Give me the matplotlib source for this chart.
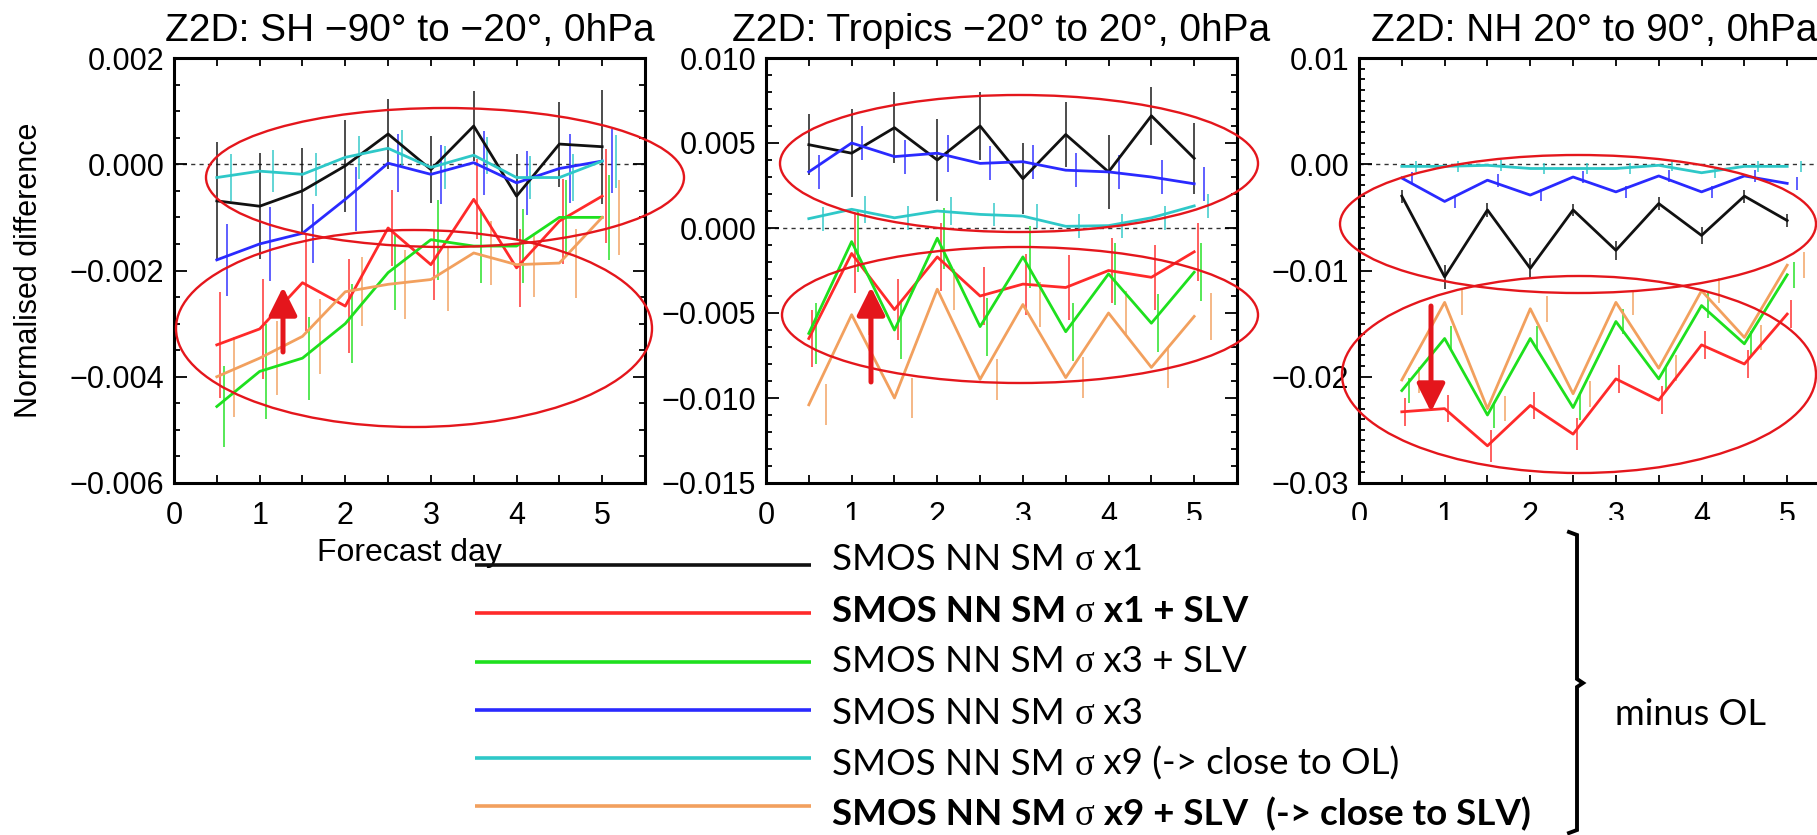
import matplotlib
matplotlib.use("Agg")
import matplotlib.pyplot as plt
from matplotlib.patches import Ellipse, Rectangle, FancyArrowPatch
from matplotlib.lines import Line2D
from matplotlib.ticker import MultipleLocator, FuncFormatter
from matplotlib.offsetbox import TextArea, HPacker, AnnotationBbox

plt.rcParams['font.family'] = ['Liberation Sans', 'DejaVu Sans']

# ---------------- data ----------------
days = [0.5, 1.0, 1.5, 2.0, 2.5, 3.0, 3.5, 4.0, 4.5, 5.0]

experiments = ["SMOS NN SM σ x1", "SMOS NN SM σ x1 + SLV", "SMOS NN SM σ x3 + SLV",
               "SMOS NN SM σ x3", "SMOS NN SM σ x9 (-> close to OL)",
               "SMOS NN SM σ x9 + SLV  (-> close to SLV)"]

titles = ["Z2D: SH \u221290\u00b0 to \u221220\u00b0, 0hPa",
          "Z2D: Tropics \u221220\u00b0 to 20\u00b0, 0hPa",
          "Z2D: NH 20\u00b0 to 90\u00b0, 0hPa"]

# Southern hemisphere
sh_x1 = [-0.00069, -0.00079, -0.0005, -0.00003, 0.00057, -0.0001, 0.00072, -0.0006, 0.00038, 0.00033]
sh_x1_slv = [-0.0034, -0.0031, -0.00223, -0.00267, -0.0012, -0.00189, -0.00066, -0.00195, -0.00107, -0.0006]
sh_x3_slv = [-0.00456, -0.0039, -0.00365, -0.003, -0.00204, -0.00142, -0.00154, -0.00154, -0.001, -0.001]
sh_x3 = [-0.0018, -0.0015, -0.0013, -0.00066, 0.00002, -0.00019, 0.00003, -0.00035, -0.00008, 0.00006]
sh_x9 = [-0.00025, -0.00013, -0.00019, 0.00013, 0.0003, -0.00006, 0.00017, -0.00025, -0.00025, 0.00006]
sh_x9_slv = [-0.004, -0.00365, -0.00324, -0.0024, -0.00226, -0.00217, -0.00167, -0.00189, -0.00186, -0.001]

sh_x1_err = [0.0011, 0.001, 0.0008, 0.00087, 0.00066, 0.00063, 0.00066, 0.0008, 0.0008, 0.00107]
sh_x1_slv_err = [0.001, 0.00094, 0.0009, 0.00088, 0.00072, 0.00066, 0.00075, 0.00074, 0.0008, 0.00088]
sh_x3_slv_err = [0.00077, 0.0009, 0.00078, 0.00075, 0.0007, 0.00075, 0.0007, 0.0007, 0.0007, 0.0008]
sh_x3_err = [0.00068, 0.0007, 0.00055, 0.0006, 0.00055, 0.00055, 0.0006, 0.0006, 0.00065, 0.0006]
sh_x9_err = [0.00045, 0.0004, 0.0004, 0.0004, 0.00035, 0.0004, 0.00035, 0.0004, 0.00045, 0.0005]
sh_x9_slv_err = [0.00075, 0.0007, 0.0007, 0.00065, 0.00065, 0.0006, 0.0006, 0.0006, 0.00065, 0.0007]

# Tropics
tr_x1 = [0.0049, 0.0044, 0.0059, 0.004, 0.006, 0.0029, 0.0055, 0.0033, 0.0066, 0.0041]
tr_x1_slv = [-0.0065, -0.0015, -0.0048, -0.0017, -0.004, -0.0033, -0.0035, -0.0025, -0.0029, -0.0014]
tr_x3_slv = [-0.0062, -0.0008, -0.006, -0.0006, -0.0058, -0.0017, -0.0061, -0.0027, -0.0056, -0.0026]
tr_x3 = [0.0033, 0.005, 0.0042, 0.0044, 0.0038, 0.0039, 0.0034, 0.0033, 0.003, 0.0026]
tr_x9 = [0.00055, 0.0011, 0.0006, 0.001, 0.0008, 0.0007, 0.0001, 0.00014, 0.0006, 0.0013]
tr_x9_slv = [-0.0104, -0.0051, -0.01, -0.0036, -0.0089, -0.0045, -0.0088, -0.005, -0.0082, -0.0052]

tr_x1_err = [0.0018, 0.0026, 0.0021, 0.0024, 0.002, 0.0021, 0.0019, 0.0022, 0.0017, 0.0021]
tr_x1_slv_err = [0.0017, 0.0023, 0.0018, 0.002, 0.0017, 0.0018, 0.0019, 0.0019, 0.0019, 0.0017]
tr_x3_slv_err = [0.0018, 0.0018, 0.0017, 0.0018, 0.0017, 0.0018, 0.0017, 0.0018, 0.0017, 0.0017]
tr_x3_err = [0.001, 0.001, 0.001, 0.0011, 0.001, 0.001, 0.001, 0.001, 0.001, 0.001]
tr_x9_err = [0.0007, 0.0008, 0.0007, 0.0008, 0.0007, 0.0007, 0.0007, 0.0007, 0.0007, 0.0007]
tr_x9_slv_err = [0.0012, 0.0012, 0.0012, 0.0012, 0.0012, 0.0013, 0.0012, 0.0013, 0.0012, 0.0014]

# Northern hemisphere
nh_x1 = [-0.003, -0.0106, -0.0043, -0.0098, -0.0043, -0.0081, -0.0037, -0.0067, -0.003, -0.0053]
nh_x1_slv = [-0.0233, -0.023, -0.0265, -0.0227, -0.0254, -0.0202, -0.0222, -0.017, -0.0188, -0.0141]
nh_x3_slv = [-0.0213, -0.0164, -0.0236, -0.0164, -0.0229, -0.0148, -0.0202, -0.0133, -0.0169, -0.0104]
nh_x3 = [-0.0013, -0.0035, -0.0015, -0.0029, -0.0012, -0.0026, -0.0011, -0.0026, -0.0011, -0.0018]
nh_x9 = [-0.0002, -0.0002, -0.0001, -0.0004, -0.0004, -0.0004, -0.0001, -0.0008, -0.0002, -0.0002]
nh_x9_slv = [-0.0203, -0.013, -0.023, -0.0136, -0.0216, -0.013, -0.0192, -0.0119, -0.0163, -0.0095]

nh_x1_err = [0.0006, 0.0011, 0.0007, 0.001, 0.0006, 0.0009, 0.0006, 0.0008, 0.0006, 0.0006]
nh_x1_slv_err = [0.0013, 0.0013, 0.0015, 0.0013, 0.0015, 0.0013, 0.0013, 0.0013, 0.0013, 0.0013]
nh_x3_slv_err = [0.0012, 0.0012, 0.0012, 0.0012, 0.0012, 0.0012, 0.0012, 0.0012, 0.0012, 0.0012]
nh_x3_err = [0.0006, 0.0006, 0.0006, 0.0006, 0.0006, 0.0006, 0.0006, 0.0006, 0.0006, 0.0006]
nh_x9_err = [0.0005, 0.0005, 0.0005, 0.0005, 0.0005, 0.0005, 0.0005, 0.0005, 0.0005, 0.0005]
nh_x9_slv_err = [0.0012, 0.0012, 0.0012, 0.0012, 0.0012, 0.0012, 0.0012, 0.0012, 0.0012, 0.0012]

panels = [
    ([sh_x1, sh_x1_slv, sh_x3_slv, sh_x3, sh_x9, sh_x9_slv],
     [sh_x1_err, sh_x1_slv_err, sh_x3_slv_err, sh_x3_err, sh_x9_err, sh_x9_slv_err]),
    ([tr_x1, tr_x1_slv, tr_x3_slv, tr_x3, tr_x9, tr_x9_slv],
     [tr_x1_err, tr_x1_slv_err, tr_x3_slv_err, tr_x3_err, tr_x9_err, tr_x9_slv_err]),
    ([nh_x1, nh_x1_slv, nh_x3_slv, nh_x3, nh_x9, nh_x9_slv],
     [nh_x1_err, nh_x1_slv_err, nh_x3_slv_err, nh_x3_err, nh_x9_err, nh_x9_slv_err]),
]

# ---------------- style ----------------
colors = ["#111111", "#ff2a2a", "#1ee01e", "#2a2aff", "#2ec8c8", "#f2a05e"]
bold_rows = [False, True, False, False, False, True]
bar_shift = [0.0, 0.04, 0.08, 0.12, 0.16, 0.20]
ylims = [(-0.006, 0.002), (-0.015, 0.010), (-0.03, 0.01)]
ymajor = [0.002, 0.005, 0.01]
yminor = [0.0005, 0.001, 0.001]
ydigits = [3, 3, 2]
ax_left = [174, 766, 1359]

W, H = 1817, 835
fig = plt.figure(figsize=(W / 100, H / 100), dpi=100)
fig.patch.set_facecolor("white")


def fx(x):
    return x / W


def fy(y):
    return 1 - y / H


def make_fmt(nd):
    def f(v, pos):
        s = f"{v:.{nd}f}"
        if float(s) == 0:
            s = f"{0:.{nd}f}"
        return s.replace("-", "\u2212")
    return FuncFormatter(f)


for k, (series, errs) in enumerate(panels):
    ax = fig.add_axes([fx(ax_left[k]), fy(483), 471 / W, 425 / H])
    ax.set_xlim(0, 5.5)
    ax.set_ylim(*ylims[k])
    ax.axhline(0, color="#333333", lw=1.0, ls=(0, (3, 3)), zorder=1)
    for i in range(6):
        ax.plot(days, series[i], color=colors[i], lw=2.0, zorder=3)
        ax.errorbar([d + bar_shift[i] for d in days], series[i], yerr=errs[i],
                    fmt="none", ecolor=colors[i], elinewidth=1.4, alpha=0.75, zorder=2)
    ax.xaxis.set_major_locator(MultipleLocator(1))
    ax.xaxis.set_minor_locator(MultipleLocator(0.5))
    ax.yaxis.set_major_locator(MultipleLocator(ymajor[k]))
    ax.yaxis.set_minor_locator(MultipleLocator(yminor[k]))
    ax.yaxis.set_major_formatter(make_fmt(ydigits[k]))
    ax.tick_params(which="both", direction="in", top=True, right=True, width=1.3)
    ax.tick_params(axis="x", which="both", length=6, pad=13, labelsize=22)
    ax.tick_params(axis="y", which="major", length=9, pad=7, labelsize=22)
    ax.tick_params(axis="y", which="minor", length=4.5)
    for sp in ax.spines.values():
        sp.set_linewidth(2.2)
    ax.set_title(titles[k], fontsize=28, pad=12)
    if k == 0:
        ax.set_xlabel("Forecast day", fontsize=23, va="top")
        ax.xaxis.set_label_coords(0.5, (483 - 538) / 425)
        ax.set_ylabel("Normalised difference", fontsize=22)
        ax.yaxis.set_label_coords((44 - 174) / 471, 0.5)

# ---------------- highlight ellipses and arrows ----------------
red = "#e4161c"
ellipses = [(445, 177.5, 478, 139), (414, 328.5, 476, 197),
            (1019, 163.5, 478, 137), (1020, 315, 476, 136),
            (1578, 224, 476, 138), (1579, 374.5, 474, 197)]
for cx, cy, w, h in ellipses:
    fig.add_artist(Ellipse((fx(cx), fy(cy)), w / W, h / H, transform=fig.transFigure,
                           fill=False, edgecolor=red, lw=1.7, zorder=5))

arrows = [((283, 352), (283, 287)), ((871, 382), (871, 287)), ((1431, 306), (1431, 412))]
for (x0, y0), (x1, y1) in arrows:
    fig.add_artist(FancyArrowPatch((fx(x0), fy(y0)), (fx(x1), fy(y1)),
                                   transform=fig.transFigure,
                                   arrowstyle="-|>,head_length=1.0,head_width=0.5",
                                   mutation_scale=17, lw=3.6, color=red, zorder=6,
                                   shrinkA=0, shrinkB=0))

# ---------------- legend block ----------------
fig.add_artist(Rectangle((fx(810), 0), 1 - fx(810), fy(520), transform=fig.transFigure,
                         facecolor="white", edgecolor="none", zorder=10))

line_y = [565, 613, 662, 710, 758, 806]
text_cy = [561, 612, 663, 714, 765, 815]
for i in range(6):
    fig.add_artist(Line2D([fx(475), fx(811)], [fy(line_y[i])] * 2, transform=fig.transFigure,
                          color=colors[i], lw=2.6, zorder=11, solid_capstyle="butt"))
    prefix, rest = experiments[i].split("σ")
    weight = "bold" if bold_rows[i] else "normal"
    props = dict(fontsize=26.5, family=["Lato", "DejaVu Sans"], weight=weight, color="black")
    sprops = dict(fontsize=26.5, family=["Liberation Serif", "DejaVu Serif"], color="black")
    pack = HPacker(children=[TextArea(prefix, textprops=props),
                             TextArea("σ", textprops=sprops),
                             TextArea(rest, textprops=props)],
                   align="baseline", pad=0, sep=0)
    ab = AnnotationBbox(pack, (fx(832), fy(text_cy[i])), xycoords="figure fraction",
                        box_alignment=(0, 0.5), frameon=False, pad=0, zorder=12)
    fig.add_artist(ab)

# brace and note
bx = [1569, 1577, 1577, 1583, 1577, 1577, 1569]
by = [532, 535, 679, 683, 687, 830, 833]
fig.add_artist(Line2D([fx(v) for v in bx], [fy(v) for v in by], transform=fig.transFigure,
                      color="black", lw=2.8, zorder=12, solid_joinstyle="miter"))
fig.text(fx(1615), fy(725), "minus OL", fontsize=26, family=["Lato", "DejaVu Sans"],
         va="baseline", ha="left", zorder=12)

fig.savefig("out.png", dpi=100)
